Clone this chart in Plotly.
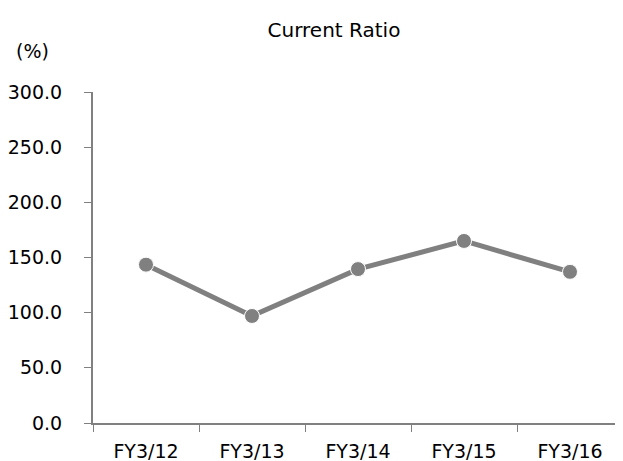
import plotly.graph_objects as go

categories = ["FY3/12", "FY3/13", "FY3/14", "FY3/15", "FY3/16"]
current_ratio = [143.5, 97.0, 139.5, 165.0, 137.0]
y_ticks = [0, 50, 100, 150, 200, 250, 300]
y_tick_labels = ["0.0", "50.0", "100.0", "150.0", "200.0", "250.0", "300.0"]

GRAY = "#808080"
FONT = "DejaVu Sans"
FS = 19

# the page body adds an 8px offset; margins below compensate for it
W, H = 623, 461
L, T, R, B = 85, 84, 8, 46
PW, PH = W - L - R, H - T - B

fig = go.Figure()
fig.add_trace(go.Scatter(
    x=categories, y=current_ratio, mode="lines+markers",
    line=dict(color=GRAY, width=5),
    marker=dict(color=GRAY, size=15, line=dict(color="white", width=1)),
    showlegend=False, cliponaxis=False,
))

fig.update_layout(
    width=W, height=H,
    margin=dict(l=L, r=R, t=T, b=B, autoexpand=False),
    plot_bgcolor="white", paper_bgcolor="white",
    font=dict(family=FONT, size=FS, color="#000000"),
    title=dict(text="Current Ratio", x=326/W, xanchor="center", y=1-22/H, yanchor="middle",
               font=dict(family=FONT, size=20, color="#000000")),
    xaxis=dict(
        type="category", range=[-0.5, len(categories) - 0.5], automargin=False,
        showline=True, linecolor=GRAY, linewidth=2,
        ticks="outside", tickson="boundaries", ticklen=7, tickcolor=GRAY, tickwidth=1,
        showgrid=False, zeroline=False, tickfont=dict(size=FS), ticklabelstandoff=10,
    ),
    yaxis=dict(
        range=[0, 300], tickvals=y_ticks, ticktext=y_tick_labels, automargin=False,
        showline=True, linecolor=GRAY, linewidth=2,
        ticks="outside", ticklen=7, tickcolor=GRAY, tickwidth=1,
        showgrid=False, zeroline=False, tickfont=dict(size=FS), ticklabelstandoff=18,
    ),
    annotations=[dict(text="(%)", x=(24-L)/PW, y=(H-B-43)/PH, xref="paper", yref="paper",
                      xanchor="center", yanchor="middle",
                      showarrow=False, font=dict(size=FS))],
)

fig.write_html("out.html")
